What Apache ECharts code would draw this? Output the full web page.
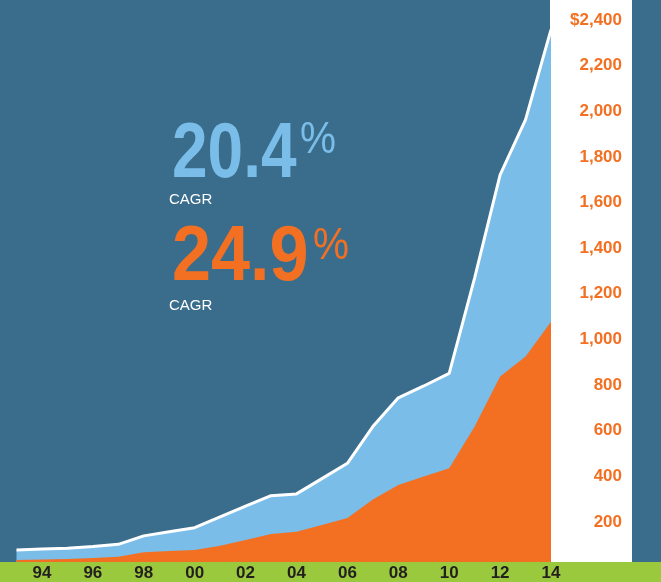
<!DOCTYPE html>
<html>
<head>
<meta charset="utf-8">
<script src="https://cdn.jsdelivr.net/npm/echarts@6/dist/echarts.min.js"></script>
<style>
html,body{margin:0;padding:0;background:#3a6c8b;}
#chart{width:661px;height:582px;}
</style>
</head>
<body>
<div id="chart"></div>
<script>
var years = ['93','94','95','96','97','98','99','00','01','02','03','04','05','06','07','08','09','10','11','12','13','14'];
var totalValues = [77, 82, 85, 92, 102, 139, 157, 175, 222, 269, 315, 323, 390, 457, 618, 744, 796, 851, 1270, 1721, 1963, 2358];
var orangeValues = [33, 36, 38, 42, 48, 67, 73, 77, 96, 121, 147, 157, 187, 217, 299, 362, 399, 435, 618, 837, 925, 1078];
var yTickValues = [200, 400, 600, 800, 1000, 1200, 1400, 1600, 1800, 2000, 2200, 2400];
var yTickLabels = ['200','400','600','800','1,000','1,200','1,400','1,600','1,800','2,000','2,200','$2,400'];

var chart = echarts.init(document.getElementById('chart'), null, {renderer:'canvas'});
var option = {
  backgroundColor: '#3a6c8b',
  animation: false,
  grid: {left: 16.5, right: 110, top: 20, bottom: 14.4, containLabel: false},
  xAxis: {
    type: 'category', data: years, boundaryGap: false, z: 20,
    axisLine: {show: false}, axisTick: {show: false}, splitLine: {show: false},
    axisLabel: {
      interval: function (i) { return i % 2 === 1; },
      color: '#231f20', fontFamily: 'Liberation Sans', fontWeight: 'bold', fontSize: 17,
      verticalAlign: 'middle', margin: 5.5
    }
  },
  yAxis: {
    type: 'value', position: 'right', min: 0, max: 2400, interval: 200, z: 5,
    axisLine: {show: false}, axisTick: {show: false}, splitLine: {show: false},
    axisLabel: {
      margin: 71, align: 'right', color: '#f37022', fontFamily: 'Liberation Sans', fontWeight: 'bold', fontSize: 17,
      formatter: function (v) { var i = yTickValues.indexOf(v); return i < 0 ? '' : yTickLabels[i]; }
    }
  },
  graphic: [
    {type: 'rect', z: 1, shape: {x: 550, y: 0, width: 82, height: 562}, style: {fill: '#ffffff'}},
    {type: 'rect', z: 15, shape: {x: 0, y: 562, width: 661, height: 20}, style: {fill: '#9bc93d'}},
    {type: 'text', z: 3, x: 172, y: 155, scaleX: 0.82, style: {text: '20.4', fill: '#7abde8', font: 'bold 78px "Liberation Sans"', verticalAlign: 'middle', align: 'left'}},
    {type: 'text', z: 3, x: 300, y: 141, scaleX: 0.9, style: {text: '%', fill: '#7abde8', font: '45px "Liberation Sans"', verticalAlign: 'middle', align: 'left'}},
    {type: 'text', z: 3, x: 169, y: 200, style: {text: 'CAGR', fill: '#ffffff', font: '15px "Liberation Sans"', verticalAlign: 'middle', align: 'left'}},
    {type: 'text', z: 3, x: 172, y: 258.5, scaleX: 0.9, style: {text: '24.9', fill: '#f37022', font: 'bold 78px "Liberation Sans"', verticalAlign: 'middle', align: 'left'}},
    {type: 'text', z: 3, x: 313, y: 246.5, scaleX: 0.9, style: {text: '%', fill: '#f37022', font: '45px "Liberation Sans"', verticalAlign: 'middle', align: 'left'}},
    {type: 'text', z: 3, x: 169, y: 306, style: {text: 'CAGR', fill: '#ffffff', font: '15px "Liberation Sans"', verticalAlign: 'middle', align: 'left'}}
  ],
  series: [
    {type: 'line', data: totalValues, z: 4, symbol: 'none', lineStyle: {color: '#ffffff', width: 3}, areaStyle: {color: '#7abde8', opacity: 1}},
    {type: 'line', data: orangeValues, z: 4, symbol: 'none', lineStyle: {width: 0}, areaStyle: {color: '#f37022', opacity: 1}}
  ]
};
chart.setOption(option);
</script>
</body>
</html>
